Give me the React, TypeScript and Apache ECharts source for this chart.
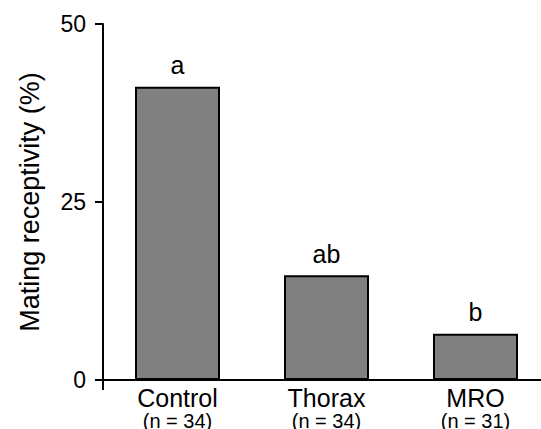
import React, { useEffect, useRef } from "react";
import * as echarts from "echarts";

const categories = ["Control", "Thorax", "MRO"];
const sampleSizes = ["(n = 34)", "(n = 34)", "(n = 31)"];
const receptivity = [41.2, 14.7, 6.5];
const letters = ["a", "ab", "b"];
const yTicks = [0, 25, 50];

const FONT = "'Liberation Sans', Arial, Helvetica, sans-serif";

export default function App() {
  const ref = useRef<HTMLDivElement>(null);
  useEffect(() => {
    if (!ref.current) return;
    const chart = echarts.init(ref.current, undefined, { renderer: "svg" });
    chart.setOption({
      animation: false,
      backgroundColor: "#ffffff",
      textStyle: { fontFamily: FONT },
      grid: {
        left: 103,
        top: 24,
        bottom: 49,
        right: -9,
        containLabel: false,
        outerBoundsMode: "none",
      },
      xAxis: {
        type: "category",
        data: categories,
        boundaryGap: true,
        axisLine: { show: true, lineStyle: { color: "#000", width: 2 } },
        axisTick: {
          show: true,
          length: 10,
          interval: (i: number) => i === 0,
          lineStyle: { color: "#000", width: 2 },
        },
        axisLabel: {
          margin: 5,
          interval: 0,
          formatter: (v: string, i: number) => `{a|${v}}\n{b|${sampleSizes[i]}}`,
          rich: {
            a: { fontSize: 25, fontFamily: FONT, color: "#000", lineHeight: 26 },
            b: { fontSize: 20, fontFamily: FONT, color: "#000", lineHeight: 20 },
          },
        },
      },
      yAxis: {
        type: "value",
        min: 0,
        max: 50,
        interval: 25,
        name: "Mating receptivity (%)",
        nameLocation: "middle",
        nameGap: 60,
        nameTextStyle: { fontSize: 27, fontFamily: FONT, color: "#000" },
        axisLine: { show: true, lineStyle: { color: "#000", width: 2 } },
        axisTick: { show: true, length: 8, lineStyle: { color: "#000", width: 2 } },
        axisLabel: {
          margin: 17,
          fontSize: 23,
          fontFamily: FONT,
          color: "#000",
          formatter: (v: number) => (yTicks.includes(v) ? String(v) : ""),
        },
        splitLine: { show: false },
      },
      series: [
        {
          type: "bar",
          data: receptivity,
          barWidth: 85,
          itemStyle: { color: "#808080", borderColor: "#000", borderWidth: 2 },
          label: {
            show: true,
            position: "top",
            distance: 9,
            fontSize: 25,
            fontFamily: FONT,
            color: "#000",
            formatter: (p: any) => letters[p.dataIndex],
          },
        },
      ],
    });
    return () => chart.dispose();
  }, []);
  return (
    <div
      ref={ref}
      style={{ position: "fixed", left: 0, top: 0, width: 541, height: 429, background: "#fff" }}
    />
  );
}
